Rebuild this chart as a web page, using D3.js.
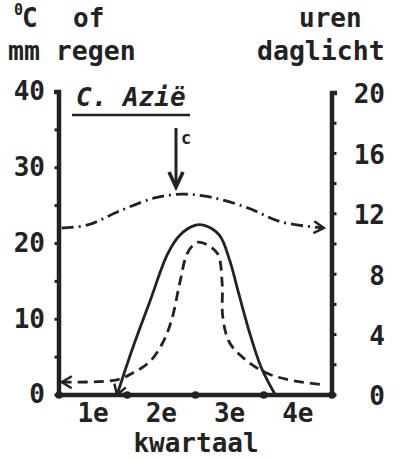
<!DOCTYPE html>
<html>
<head>
<meta charset="utf-8">
<script src="https://cdn.jsdelivr.net/npm/d3@7/dist/d3.min.js"></script>
<style>
  body { margin: 0; background: #fff; }
  svg text { font-family: "DejaVu Sans Mono", monospace; fill: #222; font-weight: bold; }
</style>
</head>
<body>
<svg id="chart" width="404" height="461"></svg>
<script>
// kwartalen op de x-as
var quarters = ["1e", "2e", "3e", "4e"];
var quarterTicks = [0, 1, 2, 3, 4];
// linker as: graden C of mm regen, rechter as: uren daglicht
var leftTicks = [0, 5, 10, 15, 20, 25, 30, 35, 40];
var leftLabels = [0, 10, 20, 30, 40];
var rightTicks = [0, 2, 4, 6, 8, 10, 12, 14, 16, 18, 20];
var rightLabels = [0, 4, 8, 12, 16, 20];

// temperatuur (doorgetrokken lijn), x in kwartalen
var tempX = [0.85, 1.08, 1.33, 1.59, 1.77, 1.99, 2.13, 2.35, 2.50, 2.63, 2.80, 2.96, 3.17];
var tempY = [0, 6.2, 12.3, 18.6, 21.1, 22.4, 22.4, 21.1, 17.8, 13.5, 8.0, 3.7, 0];

// regen (gestreepte lijn)
var rainX = [0.04, 0.85, 1.08, 1.33, 1.52, 1.65, 1.77, 1.88, 2.01, 2.10, 2.32, 2.39, 2.40, 2.50, 2.74, 3.04, 3.37, 3.91];
var rainY = [1.7, 2.0, 2.9, 4.4, 6.9, 9.9, 14.8, 18.7, 20.1, 20.1, 18.7, 14.8, 10.3, 6.9, 4.6, 2.9, 2.0, 1.3];

// uren daglicht (streep-stip lijn), rechter as
var lightX = [0.04, 0.42, 0.92, 1.40, 1.80, 2.23, 2.76, 3.26, 3.88];
var lightY = [11.06, 11.26, 12.25, 13.05, 13.3, 13.1, 12.4, 11.46, 11.06];

var svg = d3.select("#chart");
var ink = "#222";

var x = d3.scaleLinear().domain([0, 4]).range([59, 332]);
var yL = d3.scaleLinear().domain([0, 40]).range([395, 92]);
var yR = d3.scaleLinear().domain([0, 20]).range([395, 93]);

// pijlpunten
var defs = svg.append("defs");
defs.append("marker")
  .attr("id", "open")
  .attr("markerUnits", "userSpaceOnUse")
  .attr("viewBox", "-12 -8 14 16")
  .attr("refX", 0).attr("refY", 0)
  .attr("markerWidth", 14).attr("markerHeight", 16)
  .attr("orient", "auto-start-reverse")
  .append("path")
  .attr("d", "M-10,-6 L0,0 L-10,6")
  .attr("fill", "none")
  .attr("stroke", ink)
  .attr("stroke-width", 2.4)
  .attr("stroke-dasharray", "none");

// assen
svg.append("path")
  .attr("d", "M54," + yL(40) + "H" + x(0) + "V" + yL(0) + "H" + x(4) + "V" + yR(20) + "H337")
  .attr("fill", "none").attr("stroke", ink).attr("stroke-width", 4.5)
  .attr("stroke-linejoin", "miter");

svg.selectAll(".lt").data(leftTicks).enter().append("line")
  .attr("x1", x(0) - 4.5).attr("x2", x(0))
  .attr("y1", function(d) { return yL(d); })
  .attr("y2", function(d) { return yL(d); })
  .attr("stroke", ink).attr("stroke-width", 3);

svg.selectAll(".rt").data(rightTicks).enter().append("line")
  .attr("x1", x(4)).attr("x2", x(4) + 4.5)
  .attr("y1", function(d) { return yR(d); })
  .attr("y2", function(d) { return yR(d); })
  .attr("stroke", ink).attr("stroke-width", 3);

svg.selectAll(".qt").data(quarterTicks).enter().append("circle")
  .attr("cx", function(d) { return x(d); })
  .attr("cy", yL(0))
  .attr("r", 3.8).attr("fill", ink);

// aslabels
svg.selectAll(".ll").data(leftLabels).enter().append("text")
  .attr("x", 45).attr("y", function(d) { return yL(d) - 1; })
  .attr("dy", "0.36em").attr("text-anchor", "end")
  .attr("font-size", 26)
  .text(function(d) { return d; });

svg.selectAll(".rl").data(rightLabels).enter().append("text")
  .attr("x", 385).attr("y", function(d) { return yR(d) + 1; })
  .attr("dy", "0.36em").attr("text-anchor", "end")
  .attr("font-size", 26)
  .text(function(d) { return d; });

svg.selectAll(".xl").data(quarters).enter().append("text")
  .attr("x", function(d, i) { return x(i + 0.5); })
  .attr("y", 422).attr("text-anchor", "middle")
  .attr("font-size", 26)
  .text(function(d) { return d; });

svg.append("text").attr("x", 196).attr("y", 452)
  .attr("text-anchor", "middle").attr("font-size", 26).text("kwartaal");

// koppen
svg.append("text").attr("x", 14).attr("y", 15).attr("font-size", 15).text("0");
svg.append("text").attr("x", 22).attr("y", 27).attr("font-size", 26).text("C");
svg.append("text").attr("x", 73).attr("y", 27).attr("font-size", 26).text("of");
svg.append("text").attr("x", 8).attr("y", 60).attr("font-size", 26.5).text("mm regen");
svg.append("text").attr("x", 299).attr("y", 27).attr("font-size", 26).text("uren");
svg.append("text").attr("x", 257).attr("y", 60).attr("font-size", 26.5).text("daglicht");

// titel
svg.append("text").attr("x", 76).attr("y", 106)
  .attr("font-size", 26).attr("font-style", "italic").attr("font-weight", "normal")
  .text("C. Azië");
svg.append("line").attr("x1", 72).attr("x2", 190).attr("y1", 115).attr("y2", 115)
  .attr("stroke", ink).attr("stroke-width", 2.5);

// pijl c
svg.append("line").attr("x1", 176).attr("x2", 176).attr("y1", 128).attr("y2", 186)
  .attr("stroke", ink).attr("stroke-width", 3);
svg.append("path").attr("d", "M169,172 L176,187 L183,172")
  .attr("fill", "none").attr("stroke", ink).attr("stroke-width", 3.5);
svg.append("text").attr("x", 181).attr("y", 144).attr("font-size", 17).text("c");

// lijnen
var lineL = d3.line()
  .x(function(d) { return x(d[0]); })
  .y(function(d) { return yL(d[1]); })
  .curve(d3.curveCatmullRom.alpha(0.5));
var lineR = d3.line()
  .x(function(d) { return x(d[0]); })
  .y(function(d) { return yR(d[1]); })
  .curve(d3.curveCatmullRom.alpha(0.5));

svg.append("path")
  .datum(d3.zip(lightX, lightY))
  .attr("d", lineR)
  .attr("fill", "none").attr("stroke", ink).attr("stroke-width", 2.8)
  .attr("stroke-dasharray", "12,5,2,5")
  .attr("marker-end", "url(#open)");

svg.append("path")
  .datum(d3.zip(rainX, rainY))
  .attr("d", lineL)
  .attr("fill", "none").attr("stroke", ink).attr("stroke-width", 2.8)
  .attr("stroke-dasharray", "10,6")
  .attr("marker-start", "url(#open)");

svg.append("path")
  .datum(d3.zip(tempX, tempY))
  .attr("d", lineL)
  .attr("fill", "none").attr("stroke", ink).attr("stroke-width", 2.8)
  .attr("marker-start", "url(#open)");
</script>
</body>
</html>
